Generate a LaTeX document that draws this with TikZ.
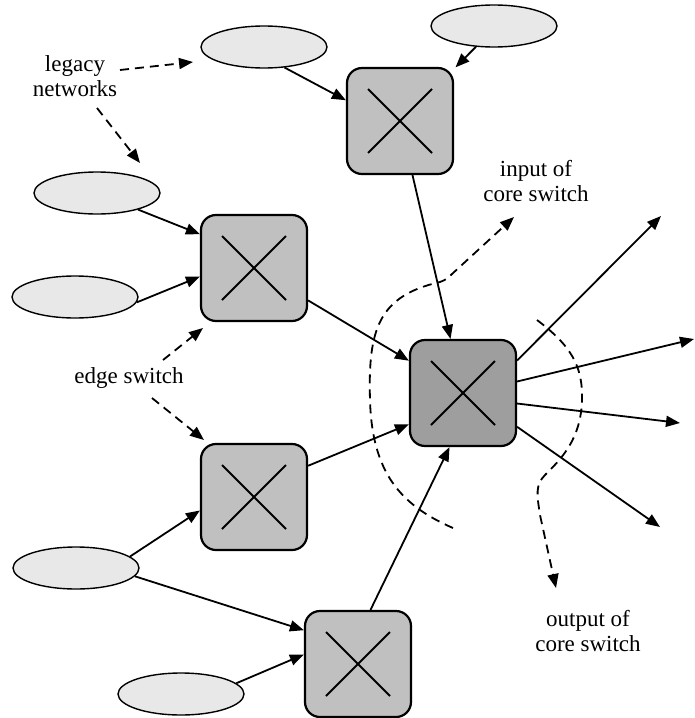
\documentclass[tikz,border=0pt]{standalone}
\usepackage{fontspec}
\setmainfont{Liberation Serif}
\usetikzlibrary{arrows.meta,shapes.geometric}
\definecolor{netfill}{RGB}{232,232,232}
\definecolor{swfill}{RGB}{192,192,192}
\definecolor{corefill}{RGB}{158,158,158}
\begin{document}
\begin{tikzpicture}[x=1pt,y=-1pt,
  net/.style={ellipse, draw, line width=1.4pt, fill=netfill, minimum width=126pt, minimum height=42pt, inner sep=0pt},
  sw/.style={draw, line width=2.2pt, rounded corners=15pt, fill=swfill, minimum width=106pt, minimum height=106pt, inner sep=0pt,
    path picture={
      \draw[line width=1.8pt] ([shift={(-32,-32)}]path picture bounding box.center) -- ([shift={(32,32)}]path picture bounding box.center);
      \draw[line width=1.8pt] ([shift={(-32,32)}]path picture bounding box.center) -- ([shift={(32,-32)}]path picture bounding box.center);
    }},
  core/.style={sw, fill=corefill},
  arr/.style={-{Triangle[length=14pt,width=11pt]}, line width=1.8pt},
  darr/.style={arr, dash pattern=on 9pt off 6pt},
  lbl/.style={align=center, font=\fontsize{23}{25}\selectfont, inner sep=0pt}
]
\useasboundingbox (0,0) rectangle (695,718);

% legacy networks
\node[net] (e1) at (264,47) {};
\node[net] (e2) at (494,26) {};
\node[net] (e3) at (97,193) {};
\node[net] (e4) at (75,297) {};
\node[net] (e5) at (76,568) {};
\node[net] (e6) at (181,694) {};

% switches
\node[sw] (s1) at (400,121) {};
\node[sw] (s2) at (254,268) {};
\node[sw] (s3) at (254,497) {};
\node[sw] (s4) at (358,664) {};
\node[core] (c) at (463,393) {};

% labels
\node[lbl] (leg) at (75,76) {legacy\\networks};
\node[lbl] (edge) at (129,378) {edge switch};
\node[lbl] (inp) at (536,181) {input of\\core switch};
\node[lbl] (outp) at (588,631) {output of\\core switch};

% connectors
\draw[arr] (e1.-45) -- (s1.159);
\draw[arr, shorten >=2pt] (e2.-131) -- (s1.44);
\draw[arr] (e3.-22) -- (s2.148);
\draw[arr] (e4.-5) -- (s2.189);
\draw[arr] (s2) -- (c);
\draw[arr] (s1) -- (c);
\draw[arr] (s3.30) -- (c.210);
\draw[arr] (s4.77) -- (c.256);
\draw[arr] (e5.12) -- (s3.194);
\draw[arr] (e5.-8) -- (s4.148);
\draw[arr] (e6.11) -- (s4.170);

% outputs
\coordinate (o1) at (661,216);
\coordinate (o2) at (694,339);
\coordinate (o3) at (680,423);
\coordinate (o4) at (660,527);
\draw[arr] (c.31) -- (o1);
\draw[arr] (c.12) -- (o2);
\draw[arr] (c.-11) -- (o3);
\draw[arr] (c.-32) -- (o4);

% dashed label pointers
\coordinate (l1a) at (120,70);  \coordinate (l1b) at (193,62);
\coordinate (l2a) at (97,108);  \coordinate (l2b) at (140,163);
\coordinate (d1a) at (163,360); \coordinate (d1b) at (203,328);
\coordinate (d2a) at (152,398); \coordinate (d2b) at (204,440);
\draw[darr] (l1a) -- (l1b);
\draw[darr] (l2a) -- (l2b);
\draw[darr] (d1a) -- (d1b);
\draw[darr] (d2a) -- (d2b);

% input boundary
\coordinate (inA) at (453,528);
\coordinate (inT) at (514,217);
\draw[darr] (inA) .. controls (400,505) and (372,472) .. (370,400)
  .. controls (368,330) and (378,296) .. (440,282)
  .. controls (446,280) and (449,277) .. (452,274) -- (inT);

% output boundary
\coordinate (outA) at (537,320);
\coordinate (outT) at (556,588);
\draw[darr] (outA) .. controls (570,345) and (583,365) .. (582,400)
  .. controls (581,440) and (560,460) .. (545,475)
  .. controls (535,485) and (537,495) .. (540,515) -- (outT);
\end{tikzpicture}
\end{document}
